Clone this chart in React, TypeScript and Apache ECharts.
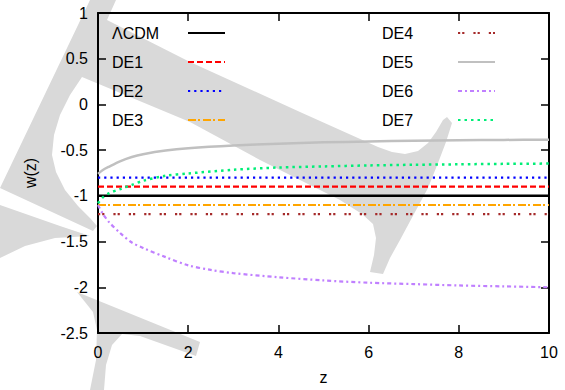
import React, { useEffect, useRef } from "react";
import * as echarts from "echarts";

// ---- data ----
const zMin = 0;
const zMax = 10;
const wMin = -2.5;
const wMax = 1;
const zStep = 2;
const wStep = 0.5;

const constNames = ["ΛCDM", "DE1", "DE2", "DE3", "DE4"];
const constValues = [-1, -0.9, -0.8, -1.1, -1.2];

const de5Z = [0, 0.1, 0.25, 0.5, 0.75, 1, 1.5, 2, 3, 4, 5, 6, 7, 8, 9, 10];
const de5W = [-0.76, -0.72, -0.68, -0.62, -0.575, -0.545, -0.505, -0.48, -0.45, -0.43, -0.415, -0.405, -0.397, -0.392, -0.388, -0.385];

const de6Z = [0, 0.1, 0.25, 0.5, 0.75, 1, 1.5, 2, 2.5, 3, 4, 5, 6, 7, 8, 9, 10];
const de6W = [-1.1, -1.19, -1.29, -1.41, -1.51, -1.57, -1.67, -1.76, -1.81, -1.845, -1.89, -1.925, -1.95, -1.965, -1.98, -1.99, -2.0];

const de7Z = [0, 0.1, 0.25, 0.5, 0.75, 1, 1.5, 2, 3, 4, 5, 6, 7, 8, 9, 10];
const de7W = [-1.08, -1.02, -0.97, -0.925, -0.88, -0.835, -0.78, -0.755, -0.715, -0.69, -0.678, -0.667, -0.66, -0.655, -0.65, -0.647];

const leftLegend = ["ΛCDM", "DE1", "DE2", "DE3"];
const rightLegend = ["DE4", "DE5", "DE6", "DE7"];

// ---- styles ----
const FONT = "Liberation Sans";
const styles: Record<string, any> = {
  "ΛCDM": { color: "#000000", width: 2.5, type: "solid" },
  DE1: { color: "#ff0000", width: 2.2, type: [6, 3] },
  DE2: { color: "#0000ff", width: 2.2, type: [2.2, 4] },
  DE3: { color: "#ffa500", width: 2.2, type: [8, 2, 2, 3] },
  DE4: { color: "#a52a2a", width: 2.2, type: [2.2, 2, 2.2, 9] },
  DE5: { color: "#c0c0c0", width: 2.5, type: "solid" },
  DE6: { color: "#c080ff", width: 2.2, type: [4, 3, 2, 3] },
  DE7: { color: "#00ee77", width: 2.5, type: [2.5, 4] },
};

// ---- watermark decoration (pixel coords) ----
const WM = "#d9d9d9";
const wmMain = [
  [90, 0], [116, 0], [107, 20], [190, 62], [300, 112], [378, 147], [392, 152], [405, 154], [418, 151],
  [428, 143], [436, 132], [443, 120], [447, 117], [452, 123], [446, 142], [438, 163], [428, 188],
  [415, 212], [400, 240], [390, 258], [383, 274], [370, 272], [374, 255], [376, 238], [373, 224],
  [362, 214], [340, 200], [260, 160], [190, 122], [82, 77], [70, 95], [60, 115], [54, 135], [52, 155],
  [56, 172], [65, 190], [78, 206], [90, 218], [97, 226], [93, 231], [0, 188],
];
const wmPieceC = [[0, 205], [60, 226], [90, 236], [55, 238], [25, 246], [0, 258]];
const wmPieceD = [
  [77, 292], [200, 342], [196, 356], [140, 336], [122, 334], [112, 345], [106, 365], [104, 390],
  [90, 390], [96, 360], [97, 330], [93, 312], [85, 302],
];

function lineSeries(name: string, data: number[][], smooth: boolean) {
  const s = styles[name];
  return {
    name,
    type: "line",
    data,
    symbol: "none",
    smooth: smooth ? 0.3 : false,
    lineStyle: { color: s.color, width: s.width, type: s.type, cap: "butt" },
    itemStyle: { color: s.color },
    z: 3,
  };
}

function legendCfg(data: string[], left: number) {
  return {
    data,
    orient: "vertical",
    left,
    top: 25,
    align: "right",
    itemWidth: 37,
    itemHeight: 14,
    itemGap: 13,
    padding: 0,
    selectedMode: false,
    itemStyle: { opacity: 0 },
    formatter: (n: string) => `{t|${n}}`,
    textStyle: {
      color: "#000",
      fontFamily: FONT,
      fontSize: 16,
      rich: { t: { width: 71, fontSize: 16, fontFamily: FONT, color: "#000", align: "left" } },
    },
  };
}

export default function App() {
  const ref = useRef<HTMLDivElement>(null);
  useEffect(() => {
    if (!ref.current) return;
    const chart = echarts.init(ref.current, undefined, { renderer: "svg" });
    const series: any[] = [];
    constNames.forEach((n, i) => {
      series.push(lineSeries(n, [[zMin, constValues[i]], [zMax, constValues[i]]], false));
    });
    series.push(lineSeries("DE5", de5Z.map((z, i) => [z, de5W[i]]), true));
    series.push(lineSeries("DE6", de6Z.map((z, i) => [z, de6W[i]]), true));
    series.push(lineSeries("DE7", de7Z.map((z, i) => [z, de7W[i]]), true));

    const axisCommon = {
      type: "value",
      axisLine: { show: true, onZero: false, lineStyle: { color: "#000", width: 2 } },
      axisTick: { show: true, inside: true, length: 8, lineStyle: { color: "#000", width: 1.5 } },
      splitLine: { show: false },
    };

    chart.setOption({
      animation: false,
      textStyle: { fontFamily: FONT },
      grid: { left: 98, right: 16, top: 13, bottom: 56 },
      graphic: {
        elements: [
          { type: "polygon", shape: { points: wmMain }, style: { fill: WM }, z: -10, silent: true },
          { type: "polygon", shape: { points: wmPieceC }, style: { fill: WM }, z: -10, silent: true },
          { type: "polygon", shape: { points: wmPieceD }, style: { fill: WM }, z: -10, silent: true },
        ],
      },
      legend: [legendCfg(leftLegend, 112), legendCfg(rightLegend, 382)],
      xAxis: [
        {
          ...axisCommon,
          min: zMin,
          max: zMax,
          interval: zStep,
          position: "bottom",
          name: "z",
          nameLocation: "middle",
          nameGap: 36,
          nameTextStyle: { color: "#000", fontSize: 16, fontFamily: FONT },
          axisLabel: { color: "#000", fontSize: 16, fontFamily: FONT, margin: 11 },
        },
        {
          ...axisCommon,
          min: zMin,
          max: zMax,
          interval: zStep,
          position: "top",
          axisLabel: { show: false },
        },
      ],
      yAxis: [
        {
          ...axisCommon,
          min: wMin,
          max: wMax,
          interval: wStep,
          position: "left",
          name: "w(z)",
          nameLocation: "middle",
          nameGap: 60,
          nameRotate: 90,
          nameTextStyle: { color: "#000", fontSize: 16, fontFamily: FONT },
          axisLabel: { color: "#000", fontSize: 16, fontFamily: FONT, margin: 10 },
        },
        {
          ...axisCommon,
          min: wMin,
          max: wMax,
          interval: wStep,
          position: "right",
          axisLabel: { show: false },
        },
      ],
      series,
    });
    return () => chart.dispose();
  }, []);
  return <div ref={ref} style={{ width: 565, height: 390, position: "absolute", left: 0, top: 0 }} />;
}
